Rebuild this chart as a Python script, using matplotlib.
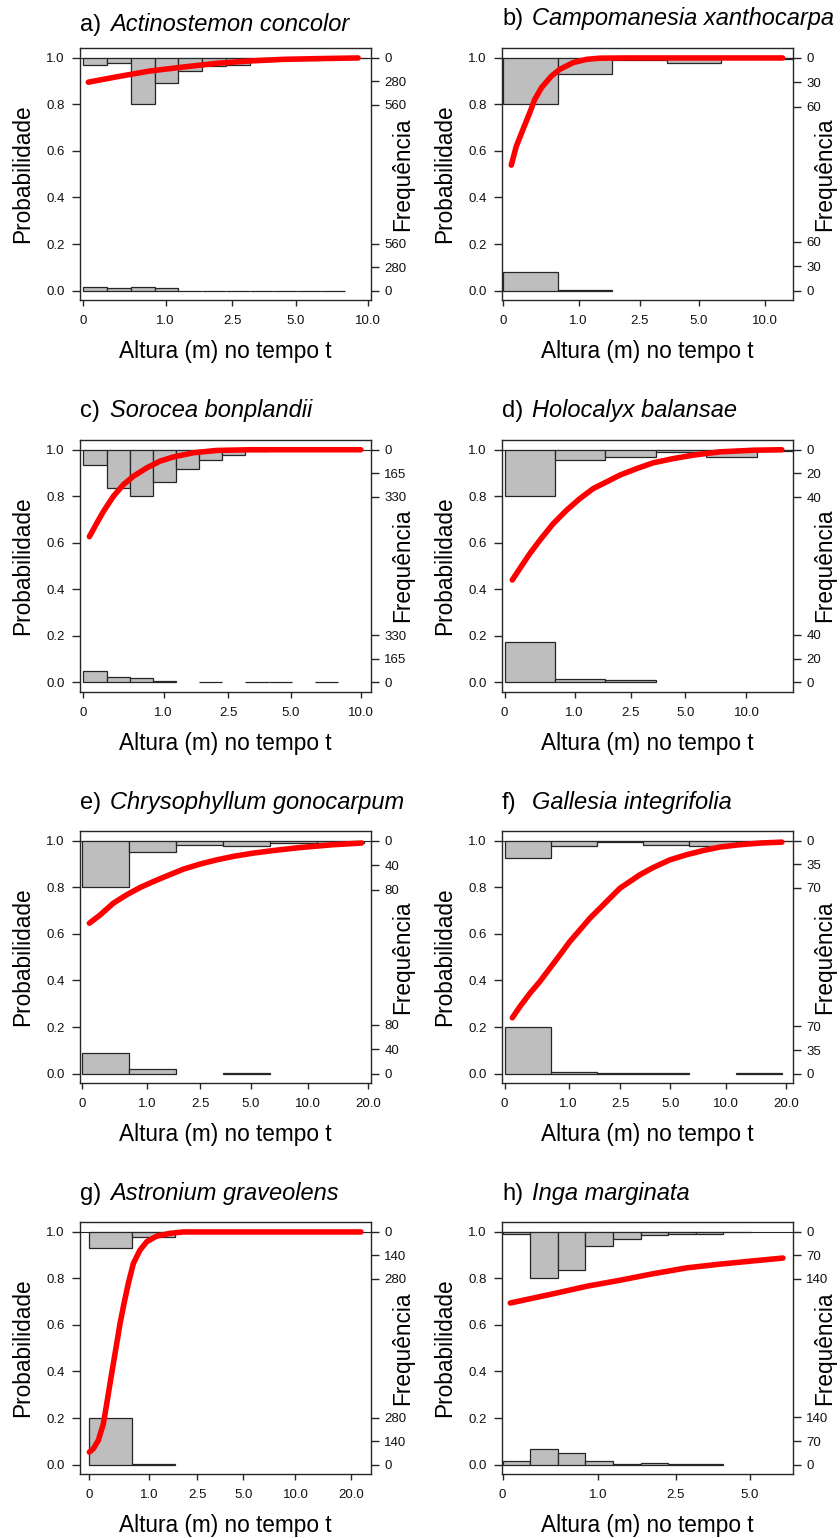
import numpy as np
import matplotlib
matplotlib.use("Agg")
import matplotlib.pyplot as plt
from matplotlib.transforms import offset_copy

plt.rcParams['font.family'] = ['Liberation Sans', 'DejaVu Sans']

letters = ['a)', 'b)', 'c)', 'd)', 'e)', 'f)', 'g)', 'h)']
species = ['Actinostemon concolor', 'Campomanesia xanthocarpa',
           'Sorocea bonplandii', 'Holocalyx balansae',
           'Chrysophyllum gonocarpum', 'Gallesia integrifolia',
           'Astronium graveolens', 'Inga marginata']

# counts per class of log(altura + 1): vivas (y = 1) e mortas (y = 0)
act_vivas = [87, 68, 555, 306, 159, 103, 87, 40, 10, 30, 2, 1]
act_mortas = [44, 28, 44, 28, 2, 1, 1, 1, 1, 1, 1, 0]
cam_vivas = [57, 20, 3, 6, 0, 2]
cam_mortas = [23, 1, 0, 0, 0, 0]
sor_vivas = [110, 273, 327, 231, 136, 71, 38, 12, 3, 2, 1, 1]
sor_mortas = [78, 38, 28, 7, 0, 1, 0, 1, 1, 0, 1, 0]
hol_vivas = [39, 9, 6, 2, 6, 1]
hol_mortas = [34, 3, 2, 0, 0, 0]
chr_vivas = [76, 19, 7, 9, 4, 4]
chr_mortas = [34, 7, 0, 1, 0, 0]
gal_vivas = [26, 8, 2, 7, 8, 3, 1]
gal_mortas = [69, 2, 1, 1, 0, 1, 0]
ast_vivas = [95, 30]
ast_mortas = [277, 6]
ing_vivas = [7, 138, 114, 43, 21, 11, 6, 7, 2]
ing_mortas = [10, 47, 35, 10, 3, 6, 1, 3, 0]

# fitted survival probability vs log(altura + 1)
act_x = [0.042, 0.281, 0.561, 0.842, 1.122, 1.403, 1.683, 1.964, 2.315]
act_p = [0.895, 0.918, 0.943, 0.960, 0.976, 0.986, 0.993, 0.996, 0.999]
cam_x = [0.076, 0.122, 0.183, 0.245, 0.291, 0.352, 0.443, 0.520, 0.642,
         0.765, 0.887, 1.13, 2.56]
cam_p = [0.539, 0.620, 0.692, 0.764, 0.821, 0.871, 0.921, 0.950, 0.979,
         0.993, 0.998, 0.999, 0.999]
sor_x = [0.052, 0.115, 0.173, 0.259, 0.345, 0.432, 0.547, 0.662, 0.777,
         0.950, 1.151, 1.439, 2.397]
sor_p = [0.626, 0.683, 0.734, 0.799, 0.849, 0.885, 0.921, 0.950, 0.968,
         0.986, 0.996, 0.999, 0.999]
hol_x = [0.076, 0.149, 0.248, 0.348, 0.480, 0.613, 0.745, 0.877, 1.010,
         1.142, 1.308, 1.474, 1.672, 1.871, 2.136, 2.467, 2.748]
hol_p = [0.440, 0.488, 0.552, 0.610, 0.681, 0.739, 0.789, 0.832, 0.861,
         0.890, 0.918, 0.943, 0.961, 0.976, 0.990, 0.997, 0.999]
chr_x = [0.075, 0.188, 0.330, 0.472, 0.614, 0.757, 0.899, 1.076, 1.254,
         1.432, 1.609, 1.822, 2.036, 2.320, 2.675, 2.970]
chr_p = [0.646, 0.681, 0.732, 0.768, 0.799, 0.825, 0.849, 0.878, 0.900,
         0.918, 0.933, 0.947, 0.958, 0.971, 0.983, 0.990]
gal_x = [0.083, 0.163, 0.271, 0.380, 0.488, 0.597, 0.705, 0.814, 0.922,
         1.031, 1.139, 1.248, 1.356, 1.465, 1.609, 1.790, 1.971, 2.152,
         2.333, 2.550, 2.767, 3.002]
gal_p = [0.240, 0.287, 0.344, 0.395, 0.452, 0.509, 0.567, 0.617, 0.667,
         0.710, 0.753, 0.796, 0.825, 0.854, 0.885, 0.918, 0.940, 0.958,
         0.973, 0.983, 0.990, 0.994]
ast_x = [0.0, 0.047, 0.105, 0.163, 0.202, 0.240, 0.279, 0.318, 0.357,
         0.403, 0.453, 0.512, 0.589, 0.667, 0.783, 0.938, 1.093, 3.159]
ast_p = [0.054, 0.069, 0.105, 0.176, 0.262, 0.348, 0.434, 0.520, 0.606,
         0.692, 0.778, 0.864, 0.921, 0.957, 0.981, 0.993, 0.999, 0.999]
ing_x = [0.056, 0.370, 0.611, 0.853, 1.094, 1.336, 1.577, 1.819, 2.031]
ing_p = [0.694, 0.734, 0.766, 0.792, 0.820, 0.845, 0.861, 0.875, 0.887]

# class width (log scale) used for each species' histogram
bin_width = [0.2, 0.5, 0.2, 0.5, 0.5, 0.5, 0.5, 0.2]

# x axis tick labels in metres
ticks_10 = [0, 1.0, 2.5, 5.0, 10.0]
ticks_20 = [0, 1.0, 2.5, 5.0, 10.0, 20.0]
ticks_5 = [0, 1.0, 2.5, 5.0]

vivas = [act_vivas, cam_vivas, sor_vivas, hol_vivas, chr_vivas, gal_vivas, ast_vivas, ing_vivas]
mortas = [act_mortas, cam_mortas, sor_mortas, hol_mortas, chr_mortas, gal_mortas, ast_mortas, ing_mortas]
curve_x = [act_x, cam_x, sor_x, hol_x, chr_x, gal_x, ast_x, ing_x]
curve_p = [act_p, cam_p, sor_p, hol_p, chr_p, gal_p, ast_p, ing_p]
xticks_m = [ticks_10, ticks_10, ticks_10, ticks_10, ticks_20, ticks_20, ticks_20, ticks_5]

# layout (pixels)
W, H = 840, 1538
col_left = [80, 502]
row_top = [47.7, 439.5, 830.7, 1221.7]
box_w, box_h = 290.5, 252.3
xlims = [(-0.028, 2.419), (-0.009, 2.651), (-0.029, 2.481), (-0.026, 2.854),
         (-0.025, 3.066), (-0.029, 3.117), (-0.109, 3.271), (-0.004, 2.10)]
title_gap = [17, 23, 23, 23, 22, 22, 22, 22]

dark = '#262626'

fig = plt.figure(figsize=(W / 100, H / 100), dpi=100)

for i in range(8):
    r, c = divmod(i, 2)
    ax = fig.add_axes([col_left[c] / W, 1 - (row_top[r] + box_h) / H,
                       box_w / W, box_h / H])
    ax.set_xlim(xlims[i])
    ax.set_ylim(-0.04, 1.043)

    v = np.array(vivas[i], dtype=float)
    m = np.array(mortas[i], dtype=float)
    tope = max(v.max(), m.max())
    scale = tope * 5
    bw = bin_width[i]
    edges = np.arange(len(v)) * bw

    ax.axhline(1, color=dark, lw=0.8, zorder=1)

    hm = m / scale
    ok = m > 0
    ax.bar(edges[ok], hm[ok], width=bw, bottom=0, align='edge',
           color='#bebebe', edgecolor=dark, linewidth=0.9, zorder=2)
    hv = v / scale
    ok = v > 0
    ax.bar(edges[ok], hv[ok], width=bw, bottom=1 - hv[ok], align='edge',
           color='#bebebe', edgecolor=dark, linewidth=0.9, zorder=2)

    ax.plot(curve_x[i], curve_p[i], color='#ff0000', lw=4,
            solid_capstyle='round', zorder=3)

    for s in ax.spines.values():
        s.set_color(dark)
        s.set_linewidth(1.0)

    tk = xticks_m[i]
    ax.set_xticks(np.log1p(tk))
    ax.set_xticklabels(['0' if t == 0 else f'{t:.1f}' for t in tk])
    ax.set_yticks([0, 0.2, 0.4, 0.6, 0.8, 1.0])
    ax.set_yticklabels(['0.0', '0.2', '0.4', '0.6', '0.8', '1.0'])
    ax.tick_params(axis='x', length=4, width=1, pad=7, labelsize=9.5,
                   color=dark, labelcolor='#111111')
    ax.tick_params(axis='y', length=5.5, width=1, pad=5.5, labelsize=9.5,
                   color=dark, labelcolor='#111111')

    # frequency axis on the right
    top_lab = int(np.ceil(tope / 10) * 10)
    labs = [0, top_lab // 2, top_lab]
    ax2 = ax.twinx()
    ax2.set_ylim(ax.get_ylim())
    pos = [l / scale for l in labs] + [1 - l / scale for l in labs]
    ax2.set_yticks(pos)
    ax2.set_yticklabels([str(l) for l in labs] * 2)
    ax2.tick_params(axis='y', length=5.5, width=1, pad=4.5, labelsize=9.5,
                    color=dark, labelcolor='#111111')
    for s in ax2.spines.values():
        s.set_visible(False)

    ax.text(1, 0.5, 'Frequência', rotation=90, ha='left', va='center',
            fontsize=16.3,
            transform=offset_copy(ax.transAxes, fig=fig, x=21, y=0, units='dots'))
    ax.text(0, 0.5, 'Probabilidade', rotation=90, ha='left', va='center',
            fontsize=16.3,
            transform=offset_copy(ax.transAxes, fig=fig, x=-69, y=0, units='dots'))
    ax.text(0.5, 0, 'Altura (m) no tempo t', ha='center', va='baseline',
            fontsize=16.3,
            transform=offset_copy(ax.transAxes, fig=fig, x=0, y=-58, units='dots'))

    ax.text(0, 1, letters[i], ha='left', va='baseline', fontsize=17,
            transform=offset_copy(ax.transAxes, fig=fig, x=0, y=title_gap[i], units='dots'))
    ax.text(0, 1, species[i], ha='left', va='baseline', fontsize=17,
            style='italic',
            transform=offset_copy(ax.transAxes, fig=fig, x=30, y=title_gap[i], units='dots'))

fig.savefig('out.png', dpi=100)
